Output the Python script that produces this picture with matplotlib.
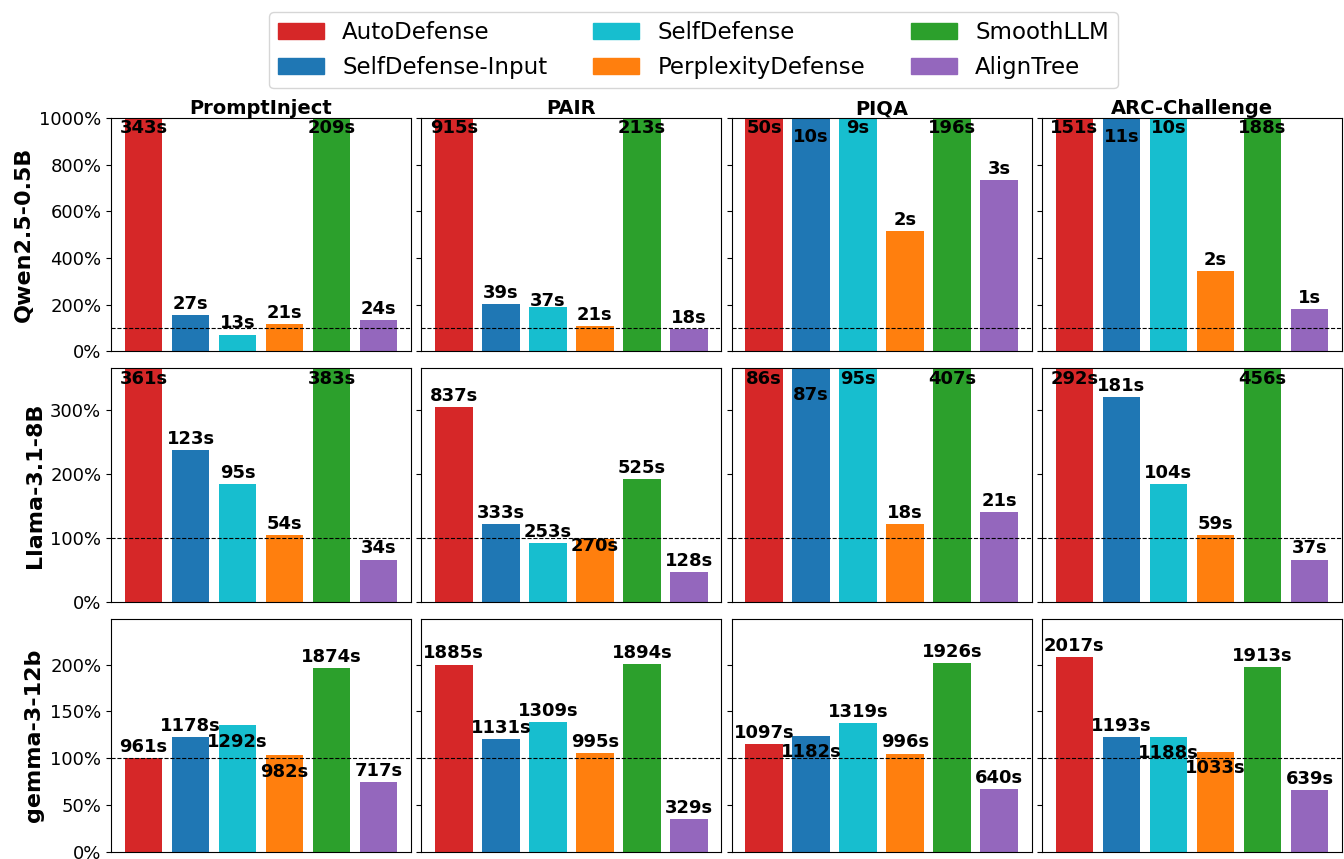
import matplotlib
matplotlib.use("Agg")
import matplotlib.pyplot as plt
from matplotlib.patches import Patch
from matplotlib.ticker import FuncFormatter, MultipleLocator

methods = ["AutoDefense", "SelfDefense-Input", "SelfDefense",
           "PerplexityDefense", "SmoothLLM", "AlignTree"]
colors = ["#d62728", "#1f77b4", "#17becf", "#ff7f0e", "#2ca02c", "#9467bd"]
datasets = ["PromptInject", "PAIR", "PIQA", "ARC-Challenge"]
models = ["Qwen2.5-0.5B", "Llama-3.1-8B", "gemma-3-12b"]

# relative runtime (%) per model, per dataset, per method
qwen_pct = [
    [1875, 154, 72, 115, 1142, 136],
    [4766, 201, 192, 110, 1109, 95],
    [12500, 2500, 2250, 515, 49000, 735],
    [26500, 1930, 1754, 343, 33000, 183],
]
llama_pct = [
    [700, 238, 184, 105, 742, 66],
    [305, 122, 92, 99, 192, 47],
    [581, 588, 642, 122, 2750, 141],
    [519, 321, 184, 105, 810, 66],
]
gemma_pct = [
    [100, 123, 135, 103, 196, 75],
    [200, 121, 139, 106, 201, 35],
    [115, 124, 138, 105, 202, 67],
    [208, 123, 123, 107, 197, 66],
]

# absolute runtimes shown as labels
qwen_time = [
    ["343s", "27s", "13s", "21s", "209s", "24s"],
    ["915s", "39s", "37s", "21s", "213s", "18s"],
    ["50s", "10s", "9s", "2s", "196s", "3s"],
    ["151s", "11s", "10s", "2s", "188s", "1s"],
]
llama_time = [
    ["361s", "123s", "95s", "54s", "383s", "34s"],
    ["837s", "333s", "253s", "270s", "525s", "128s"],
    ["86s", "87s", "95s", "18s", "407s", "21s"],
    ["292s", "181s", "104s", "59s", "456s", "37s"],
]
gemma_time = [
    ["961s", "1178s", "1292s", "982s", "1874s", "717s"],
    ["1885s", "1131s", "1309s", "995s", "1894s", "329s"],
    ["1097s", "1182s", "1319s", "996s", "1926s", "640s"],
    ["2017s", "1193s", "1188s", "1033s", "1913s", "639s"],
]

all_pct = [qwen_pct, llama_pct, gemma_pct]
all_time = [qwen_time, llama_time, gemma_time]

# layout settings
ylims = [1000, 366, 249]
ysteps = [200, 100, 50]
# extra vertical nudges (points) for labels that would overlap: (row, col, bar) -> dy
nudges = {
    (0, 2, 1): -6, (0, 3, 1): -6, (0, 1, 2): -4,
    (1, 2, 1): -12, (1, 1, 3): -13,
    (2, 0, 2): -20, (2, 0, 3): -20, (2, 2, 1): -20,
    (2, 3, 2): -20, (2, 3, 3): -20,
}

fig, axes = plt.subplots(3, 4, figsize=(13.44, 8.59), dpi=100, sharey="row")
fig.subplots_adjust(left=0.0826, right=0.9985, top=0.8626, bottom=0.0082,
                    wspace=0.034, hspace=0.073)

pct_fmt = FuncFormatter(lambda v, p: f"{v:.0f}%")
x = list(range(len(methods)))

for r in range(3):
    for c in range(4):
        ax = axes[r, c]
        vals = all_pct[r][c]
        labs = all_time[r][c]
        ax.bar(x, vals, width=0.8, color=colors)
        ax.axhline(100, color="black", linestyle="--", linewidth=0.8)
        ax.set_ylim(0, ylims[r])
        ax.yaxis.set_major_locator(MultipleLocator(ysteps[r]))
        ax.yaxis.set_major_formatter(pct_fmt)
        ax.set_xticks([])
        ax.tick_params(axis="y", labelsize=13)
        for i, (v, t) in enumerate(zip(vals, labs)):
            dy_extra = nudges.get((r, c, i), 0)
            if v >= ylims[r]:
                ax.annotate(t, (i, ylims[r]), xytext=(0, -1 + dy_extra),
                            textcoords="offset points", ha="center", va="top",
                            fontsize=13, fontweight="bold", annotation_clip=False)
            else:
                ax.annotate(t, (i, v), xytext=(0, 1.5 + dy_extra),
                            textcoords="offset points", ha="center", va="bottom",
                            fontsize=13, fontweight="bold", annotation_clip=False)
        if r == 0:
            ax.set_title(datasets[c], fontsize=14, fontweight="bold", pad=2)
        if c == 0:
            ax.set_ylabel(models[r], fontsize=16, fontweight="bold")

handles = [Patch(color=col, label=m) for col, m in zip(colors, methods)]
fig.legend(handles=handles, loc="upper center", ncol=3, fontsize=16.5,
           bbox_to_anchor=(0.516, 0.999), frameon=True)

fig.savefig("out.png", dpi=100)
